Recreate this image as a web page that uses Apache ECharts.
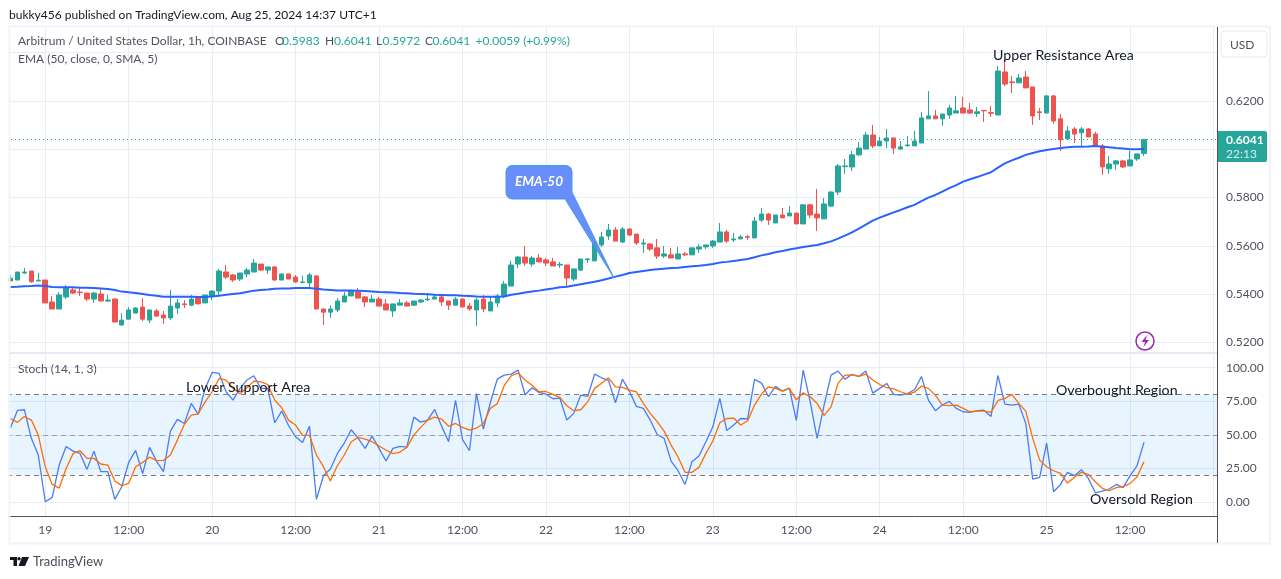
<!DOCTYPE html>
<html><head><meta charset="utf-8">
<style>html,body{margin:0;padding:0;background:#fff}#c{width:1281px;height:579px}</style>
<script src="https://cdn.jsdelivr.net/npm/echarts@6/dist/echarts.min.js"></script>
</head><body><div id="c"></div><script>
const opens=[.5455,.5459,.5488,.5496,.5455,.5459,.5368,.5339,.5389,.5418,
.5409,.5405,.5380,.5401,.5372,.5380,.5273,.5297,.5322,.5347,
.5293,.5331,.5314,.5302,.5343,.5360,.5355,.5384,.5364,.5393,
.5413,.5492,.5480,.5463,.5484,.5492,.5525,.5500,.5513,.5459,
.5484,.5471,.5448,.5447,.5476,.5339,.5326,.5335,.5368,.5393,
.5409,.5389,.5368,.5380,.5360,.5331,.5355,.5364,.5355,.5368,
.5377,.5380,.5389,.5372,.5355,.5380,.5351,.5335,.5380,.5331,
.5364,.5393,.5434,.5525,.5554,.5525,.5550,.5542,.5534,.5521,
.5521,.5463,.5500,.5543,.5538,.5604,.5641,.5666,.5616,.5670,
.5649,.5608,.5608,.5592,.5558,.5563,.5546,.5567,.5563,.5587,
.5596,.5600,.5616,.5658,.5625,.5629,.5638,.5633,.5707,.5732,
.5695,.5728,.5724,.5736,.5691,.5770,.5732,.5712,.5765,.5823,
.5928,.5927,.5977,.6001,.6059,.6014,.6034,.6047,.6001,.6015,
.6014,.6026,.6126,.6138,.6126,.6142,.6150,.6171,.6163,.6148,
.6161,.6152,.6142,.6320,.6279,.6275,.6299,.6258,.6155,.6150,
.6221,.6126,.6043,.6084,.6068,.6084,.6063,.6014,.5919,.5939,
.5952,.5931,.5960,.5983];
const closes=[.5467,.5492,.5492,.5452,.5458,.5364,.5339,.5397,.5426,.5405,
.5407,.5380,.5405,.5372,.5376,.5285,.5293,.5335,.5343,.5297,
.5335,.5310,.5302,.5351,.5364,.5357,.5380,.5360,.5397,.5413,
.5496,.5471,.5459,.5488,.5500,.5529,.5500,.5513,.5459,.5484,
.5463,.5451,.5451,.5480,.5339,.5326,.5339,.5372,.5393,.5413,
.5384,.5368,.5380,.5351,.5335,.5360,.5364,.5351,.5372,.5376,
.5380,.5389,.5368,.5355,.5380,.5347,.5339,.5376,.5339,.5368,
.5393,.5442,.5521,.5554,.5529,.5550,.5534,.5529,.5517,.5524,
.5467,.5505,.5546,.5546,.5616,.5637,.5666,.5620,.5670,.5645,
.5612,.5612,.5587,.5558,.5567,.5550,.5567,.5563,.5592,.5596,
.5604,.5620,.5658,.5620,.5629,.5637,.5636,.5703,.5732,.5707,
.5728,.5716,.5736,.5691,.5770,.5728,.5716,.5774,.5823,.5931,
.5931,.5977,.6005,.6059,.6014,.6034,.6047,.6005,.6010,.6018,
.6034,.6130,.6138,.6126,.6146,.6171,.6159,.6150,.6150,.6155,
.6159,.6149,.6324,.6270,.6276,.6295,.6254,.6138,.6152,.6221,
.6117,.6039,.6076,.6063,.6084,.6051,.6014,.5927,.5939,.5952,
.5927,.5956,.5981,.6041];
const lows=[.5455,.5459,.5484,.5447,.5455,.5364,.5339,.5339,.5380,.5401,
.5393,.5372,.5364,.5372,.5368,.5285,.5269,.5297,.5322,.5289,
.5281,.5306,.5277,.5293,.5318,.5343,.5351,.5360,.5364,.5376,
.5397,.5463,.5451,.5455,.5471,.5492,.5496,.5484,.5455,.5459,
.5463,.5447,.5447,.5422,.5339,.5273,.5302,.5326,.5368,.5393,
.5384,.5347,.5368,.5351,.5335,.5306,.5355,.5351,.5351,.5364,
.5372,.5380,.5351,.5335,.5355,.5347,.5331,.5269,.5326,.5331,
.5347,.5384,.5434,.5509,.5517,.5513,.5534,.5517,.5517,.5509,
.5426,.5455,.5496,.5529,.5538,.5596,.5625,.5620,.5612,.5641,
.5604,.5571,.5579,.5546,.5550,.5550,.5546,.5558,.5563,.5571,
.5587,.5592,.5616,.5612,.5616,.5629,.5625,.5633,.5699,.5687,
.5695,.5716,.5724,.5691,.5691,.5716,.5662,.5712,.5761,.5811,
.5898,.5910,.5972,.6001,.6005,.6014,.6005,.5981,.5997,.6010,
.6014,.6026,.6126,.6126,.6097,.6126,.6150,.6150,.6146,.6134,
.6113,.6134,.6142,.6262,.6233,.6275,.6254,.6101,.6121,.6150,
.6105,.5993,.6043,.6026,.6014,.6051,.6014,.5894,.5898,.5914,
.5923,.5931,.5952,.5972];
const highs=[.5480,.5493,.5509,.5496,.5488,.5459,.5393,.5409,.5438,.5426,
.5426,.5405,.5409,.5422,.5397,.5384,.5322,.5347,.5347,.5384,
.5335,.5339,.5331,.5418,.5380,.5376,.5397,.5389,.5397,.5418,
.5505,.5521,.5484,.5488,.5509,.5546,.5525,.5513,.5517,.5484,
.5484,.5480,.5476,.5488,.5476,.5339,.5355,.5384,.5409,.5418,
.5426,.5393,.5397,.5389,.5380,.5360,.5380,.5372,.5372,.5380,
.5405,.5401,.5401,.5372,.5389,.5384,.5364,.5384,.5397,.5389,
.5401,.5455,.5538,.5558,.5600,.5558,.5567,.5550,.5550,.5534,
.5521,.5505,.5546,.5550,.5616,.5658,.5691,.5678,.5678,.5674,
.5649,.5629,.5612,.5629,.5600,.5592,.5596,.5575,.5592,.5608,
.5604,.5625,.5695,.5666,.5654,.5645,.5645,.5720,.5757,.5736,
.5728,.5757,.5765,.5736,.5774,.5774,.5836,.5798,.5827,.5939,
.5960,.5993,.6030,.6072,.6101,.6051,.6084,.6047,.6034,.6055,
.6076,.6155,.6241,.6163,.6146,.6184,.6221,.6217,.6192,.6175,
.6161,.6179,.6345,.6370,.6304,.6312,.6324,.6258,.6171,.6225,
.6225,.6146,.6097,.6092,.6092,.6088,.6072,.6022,.5972,.5956,
.5956,.5993,.5981,.6041];
const ema50=[.5430,.5431,.5433,.5434,.5436,.5434,.5430,.5429,.5429,.5429,
.5427,.5427,.5426,.5424,.5422,.5418,.5411,.5408,.5405,.5401,
.5397,.5394,.5390,.5390,.5390,.5390,.5390,.5389,.5389,.5391,
.5394,.5398,.5401,.5404,.5409,.5415,.5418,.5420,.5423,.5424,
.5424,.5426,.5426,.5426,.5423,.5420,.5418,.5416,.5416,.5416,
.5415,.5413,.5411,.5409,.5408,.5407,.5405,.5404,.5402,.5401,
.5400,.5398,.5397,.5396,.5396,.5394,.5393,.5391,.5390,.5390,
.5390,.5391,.5398,.5402,.5407,.5411,.5415,.5420,.5424,.5429,
.5431,.5436,.5441,.5447,.5452,.5458,.5465,.5473,.5480,.5488,
.5492,.5496,.5500,.5503,.5506,.5509,.5510,.5513,.5516,.5518,
.5521,.5525,.5531,.5534,.5538,.5542,.5546,.5553,.5561,.5567,
.5574,.5579,.5585,.5590,.5596,.5600,.5604,.5611,.5619,.5630,
.5643,.5656,.5672,.5688,.5705,.5717,.5728,.5739,.5749,.5760,
.5770,.5785,.5800,.5811,.5825,.5839,.5852,.5866,.5876,.5885,
.5895,.5905,.5924,.5942,.5954,.5965,.5977,.5985,.5992,.5997,
.6001,.6005,.6008,.6010,.6011,.6012,.6014,.6011,.6008,.6005,
.6003,.6000,.6000,.6001];
const stochK=[55.3,68.2,68.7,47.4,35.0,0.2,3.5,27.5,41.4,37.9,
36.2,24.3,37.9,22.6,22.6,2.0,11.4,29.5,38.4,21.1,
40.7,30.5,22.6,52.8,61.5,58.5,73.4,65.2,84.6,96.5,
95.7,82.1,75.9,84.6,90.8,94.0,84.6,84.6,59.0,67.7,
56.8,48.6,44.4,56.5,2.0,19.6,24.6,36.0,43.9,53.8,
47.4,39.9,49.1,39.9,30.5,39.9,41.4,40.9,63.2,59.5,
61.0,68.9,56.5,44.9,75.6,46.6,38.2,80.8,54.3,73.9,
91.5,94.5,95.2,98.2,79.9,85.1,81.6,80.4,76.9,77.4,
61.0,66.0,79.6,78.6,95.2,92.5,90.5,73.9,91.5,82.6,
71.2,69.7,61.0,50.3,47.4,30.5,23.3,13.1,30.0,34.2,
44.9,56.0,77.1,53.3,57.3,62.2,61.8,91.3,88.5,78.4,
86.1,82.6,84.8,60.8,98.2,74.6,47.4,72.2,94.5,97.5,
91.5,95.0,93.5,97.5,81.1,84.6,88.3,80.1,79.6,80.8,
83.6,93.5,75.9,68.0,72.2,74.9,69.7,67.2,66.7,68.0,
68.4,63.7,94.2,72.9,72.2,72.9,58.5,17.1,18.4,43.9,
7.7,13.1,22.1,19.6,24.1,17.6,6.9,8.2,9.7,13.1,
10.7,19.6,27.0,44.4];
const stochD=[62.2,59.3,63.7,61.0,49.8,26.3,13.1,10.4,25.0,36.0,
38.2,32.5,32.5,28.3,27.5,15.6,12.2,13.9,26.3,29.5,
33.5,30.8,31.0,35.0,46.1,57.8,64.7,65.7,74.6,82.1,
92.0,90.8,84.6,80.6,85.1,90.0,89.5,87.5,75.9,70.2,
60.8,57.3,49.6,49.6,35.0,26.3,15.6,27.0,35.0,44.9,
48.1,46.9,44.9,41.7,38.7,36.0,37.2,40.7,49.8,55.6,
61.0,63.2,61.8,56.3,58.5,55.6,53.6,55.1,58.3,69.7,
73.2,86.6,94.0,96.0,90.8,87.0,82.1,82.3,80.1,77.9,
71.7,68.0,68.7,74.6,84.6,88.5,92.5,85.8,85.3,83.3,
82.1,73.4,66.0,59.8,52.8,42.4,33.5,22.1,22.1,25.8,
36.2,45.4,59.0,62.2,62.5,57.3,60.3,72.2,80.4,85.8,
84.6,82.6,84.6,76.1,81.3,78.4,73.4,64.5,70.9,88.3,
94.5,94.7,93.5,95.2,90.8,87.5,85.1,84.3,82.1,80.4,
81.8,86.3,84.6,79.6,72.2,71.7,72.2,69.7,67.2,67.7,
67.7,66.7,75.6,77.1,80.1,73.4,67.7,47.4,31.2,26.3,
23.3,21.3,14.1,18.4,22.1,20.6,15.1,10.2,8.4,10.7,
11.4,13.9,18.6,30.0];
const priceGridTicks=[.52,.54,.56,.58,.60,.62,.64];
const priceLabelTicks=[.52,.54,.56,.58,.62];
const stochTicks=[0,25,50,75,100];
const lastPrice=.6041;
const stochBands=[20,80];
const stochMid=50;
const leadingHours=5, totalSlots=174;
const dayNames=['19','20','21','22','23','24','25'];

const timeLabels=[];
for(let i=0;i<totalSlots;i++){
  const k=i-leadingHours;
  if(k>=0&&k%24===0) timeLabels.push(dayNames[k/24]||'');
  else if(k>=0&&k%24===12) timeLabels.push('12:00');
  else timeLabels.push('');
}
const candles=opens.map((o,i)=>[o,closes[i],lows[i],highs[i]]);
const onMark=i=>(i-leadingHours)>=0&&(i-leadingHours)%12===0;

const FONT='Lato,"Noto Sans",sans-serif';
const GRID='#e6edf4', TXT='#50535e', UP='#26a69a', DOWN='#ef5350';
const xBase={type:'category',data:timeLabels,boundaryGap:true,
  axisTick:{show:false},
  splitLine:{show:true,interval:(i)=>onMark(i),alignWithLabel:true,lineStyle:{color:GRID,width:1}}};

function txt(x,y,s,size,fill,weight){return {type:'text',z:100,x:x,y:y,style:{text:s,font:(weight?weight+' ':'')+(size||12)+'px '+FONT,fill:fill||'#131722',textVerticalAlign:'middle'}};}

const chart=echarts.init(document.getElementById('c'),null,{renderer:'canvas'});
chart.setOption({
  animation:false,
  backgroundColor:'#fff',
  textStyle:{fontFamily:FONT},
  grid:[{left:7,right:64,top:28,height:324},{left:7,right:64,top:354,height:162}],
  xAxis:[
    Object.assign({},xBase,{gridIndex:0,axisLine:{show:false},axisLabel:{show:false}}),
    Object.assign({},xBase,{gridIndex:1,axisLine:{show:true,onZero:false,lineStyle:{color:'#50535e',width:1}},
      axisLabel:{show:true,interval:(i)=>onMark(i),margin:8,fontSize:12,color:TXT,fontFamily:FONT}})
  ],
  yAxis:[
    {gridIndex:0,type:'value',position:'right',min:.5161,max:.6502,scale:true,
     axisLine:{show:false},
     axisTick:{show:false,customValues:priceGridTicks},
     axisLabel:{show:true,customValues:priceLabelTicks,formatter:v=>v.toFixed(4),margin:9,fontSize:12,color:TXT,fontFamily:FONT},
     splitLine:{show:true,lineStyle:{color:GRID,width:1}}},
    {gridIndex:1,type:'value',position:'right',min:-10.4,max:110.2,
     axisLine:{show:false},
     axisTick:{show:false,customValues:stochTicks},
     axisLabel:{show:true,customValues:stochTicks,formatter:v=>v.toFixed(2),margin:9,fontSize:12,color:TXT,fontFamily:FONT},
     splitLine:{show:true,lineStyle:{color:GRID,width:1}}}
  ],
  series:[
    {name:'Price',type:'candlestick',xAxisIndex:0,yAxisIndex:0,data:candles,barWidth:5,z:3,
     itemStyle:{color:UP,color0:DOWN,borderColor:UP,borderColor0:DOWN,borderWidth:1},
     markLine:{silent:true,symbol:'none',precision:4,label:{show:false},animation:false,
       lineStyle:{color:UP,type:[1,3],width:1},data:[{yAxis:lastPrice}]}},
    {name:'EMA',type:'line',xAxisIndex:0,yAxisIndex:0,data:ema50,showSymbol:false,z:4,
     lineStyle:{color:'#2962ff',width:2},itemStyle:{color:'#2962ff'}},
    {name:'Stoch K',type:'line',xAxisIndex:1,yAxisIndex:1,data:stochK,showSymbol:false,z:4,
     lineStyle:{color:'#4a7cf7',width:1.3},itemStyle:{color:'#2962ff'},
     markArea:{silent:true,itemStyle:{color:'rgba(33,150,243,0.1)'},data:[[{yAxis:stochBands[0]},{yAxis:stochBands[1]}]]},
     markLine:{silent:true,symbol:'none',label:{show:false},animation:false,data:[
       {yAxis:stochBands[1],lineStyle:{color:'#787b86',type:[5,4],width:1.2}},
       {yAxis:stochMid,lineStyle:{color:'#9a9da6',type:[5,4],width:1}},
       {yAxis:stochBands[0],lineStyle:{color:'#787b86',type:[5,4],width:1.2}}]}},
    {name:'Stoch D',type:'line',xAxisIndex:1,yAxisIndex:1,data:stochD,showSymbol:false,z:5,
     lineStyle:{color:'#ff6d00',width:1.3},itemStyle:{color:'#ff6d00'}}
  ],
  graphic:[
    {type:'rect',z:90,shape:{x:0,y:20,width:8.5,height:530},style:{fill:'#fff'}},
    {type:'rect',z:91,shape:{x:9.5,y:26.5,width:1260.5,height:517},style:{fill:'none',stroke:'#f0f3fa',lineWidth:2}},
    {type:'line',z:92,shape:{x1:10,y1:353,x2:1217,y2:353},style:{stroke:'#e6e9f0',lineWidth:2}},
    {type:'line',z:93,shape:{x1:1217.5,y1:27,x2:1217.5,y2:543},style:{stroke:'#50535e',lineWidth:1}},
    {type:'rect',z:95,shape:{x:1221,y:31,width:46,height:26,r:4},style:{fill:'#fff',stroke:'#e6e9f0',lineWidth:1}},
    txt(1230,45,'USD',12,TXT),
    {type:'rect',z:95,shape:{x:1218,y:131,width:49,height:31,r:[0,2,2,0]},style:{fill:UP}},
    txt(1226,140.5,'0.6041',12,'#fff','bold'),
    txt(1226,154,'22:13',12,'#d4efec'),
    txt(9,15.5,'bukky456 published on TradingView.com, Aug 25, 2024 14:37 UTC+1',12,'#131722'),
    txt(18,41.5,'Arbitrum / United States Dollar, 1h, COINBASE',12,TXT),
    txt(275,41.5,'O',12,TXT),txt(282,41.5,'0.5983',12,UP),
    txt(325,41.5,'H',12,TXT),txt(334,41.5,'0.6041',12,UP),
    txt(376,41.5,'L',12,TXT),txt(382.5,41.5,'0.5972',12,UP),
    txt(425,41.5,'C',12,TXT),txt(432.5,41.5,'0.6041',12,UP),
    txt(475.5,41.5,'+0.0059 (+0.99%)',12,UP),
    txt(18,59.5,'EMA (50, close, 0, SMA, 5)',12,TXT),
    txt(18,369.5,'Stoch (14, 1, 3)',12,TXT),
    txt(993,55,'Upper Resistance Area',14.2,'#131722'),
    txt(186,387,'Lower Support Area',14.2,'#131722'),
    txt(1056,390,'Overbought Region',14.2,'#131722'),
    txt(1090,499,'Oversold Region',14.2,'#131722'),
    {type:'polygon',z:96,shape:{points:[[512,165.5],[566,165.5],[569,166.3],[571.2,168.5],[572,171.5],[572,192],[614,278],[565,199],[512,199],[509,198.2],[506.8,196],[506,193],[506,171.5],[506.8,168.5],[509,166.3]]},
      style:{fill:'#5b85fb',stroke:'#3d9be0',lineWidth:1,opacity:.93}},
    {type:'text',z:97,x:515,y:181.5,style:{text:'EMA-50',font:'italic bold 13.5px '+FONT,fill:'#fff',textVerticalAlign:'middle'}},
    {type:'circle',z:96,shape:{cx:1145,cy:341,r:9},style:{fill:'#fff',stroke:'#9c27b0',lineWidth:1.5}},
    {type:'polygon',z:97,shape:{points:[[1147,335],[1141.5,342],[1145,342],[1143.5,347],[1149,340],[1145.5,340]]},style:{fill:'#9c27b0'}},
    {type:'polygon',z:96,shape:{points:[[10,557],[17,557],[17,566],[13.5,566],[13.5,560],[10,560]]},style:{fill:'#131722'}},
    {type:'polygon',z:96,shape:{points:[[22,557],[29,557],[25,566],[18.5,566]]},style:{fill:'#131722'}},
    {type:'circle',z:96,shape:{cx:19,cy:558.8,r:1.7},style:{fill:'#131722'}},
    txt(33,562,'TradingView',13,'#4a4e59')
  ]
});
</script></body></html>
